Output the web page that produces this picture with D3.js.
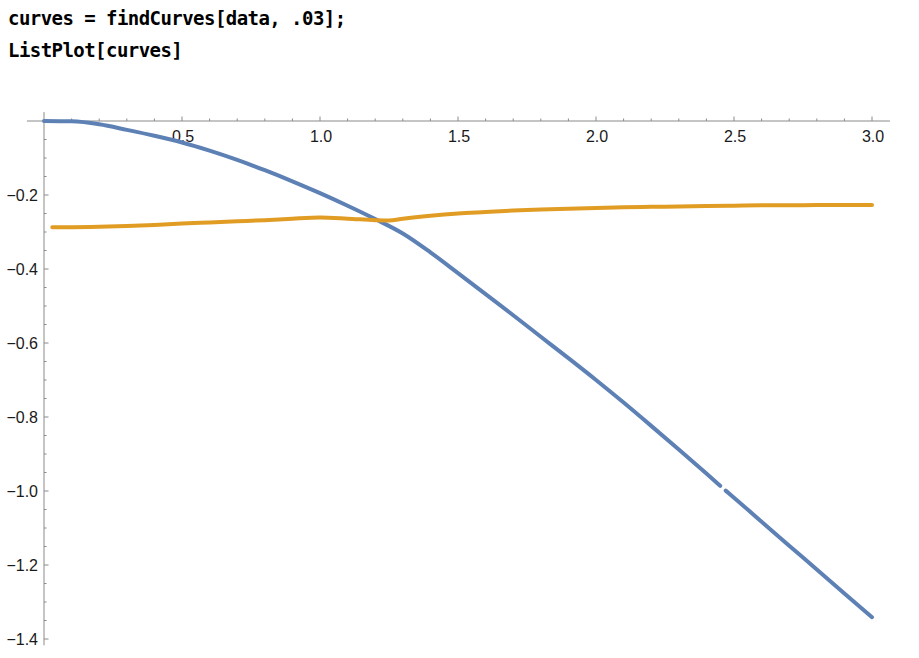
<!DOCTYPE html>
<html>
<head>
<meta charset="utf-8">
<script src="https://cdn.jsdelivr.net/npm/d3@7"></script>
<style>
	body { margin: 0; background: #fff; }
	svg { display: block; }
</style>
</head>
<body>
<div id="chart"></div>
<script>
var codeLines = ['curves = findCurves[data, .03];', 'ListPlot[curves]'];

var xTicks = [0.5, 1.0, 1.5, 2.0, 2.5, 3.0];
var yTicks = [-0.2, -0.4, -0.6, -0.8, -1.0, -1.2, -1.4];

// blue curve, null = small hole in the point list near x = 2.46
var blueCurve = [
	[0, 0], [0.1, -0.001], [0.2, -0.009], [0.3, -0.024], [0.4, -0.040],
	[0.5, -0.058], [0.6, -0.080], [0.7, -0.105], [0.8, -0.133], [0.9, -0.163],
	[1.0, -0.195], [1.1, -0.229], [1.2, -0.265], [1.3, -0.304], [1.4, -0.355],
	[1.5, -0.411], [1.6, -0.468], [1.7, -0.525], [1.8, -0.583], [1.9, -0.641],
	[2.0, -0.700], [2.1, -0.761], [2.2, -0.824], [2.3, -0.888], [2.4, -0.953],
	[2.45, -0.986], null, [2.47, -0.999], [2.5, -1.018], [2.6, -1.083],
	[2.7, -1.148], [2.8, -1.212], [2.9, -1.277], [3.0, -1.341]
];

var orangeCurve = [
	[0.03, -0.287], [0.1, -0.287], [0.2, -0.286], [0.3, -0.284], [0.4, -0.281],
	[0.5, -0.277], [0.6, -0.274], [0.7, -0.271], [0.8, -0.268], [0.9, -0.264],
	[1.0, -0.261], [1.1, -0.264], [1.2, -0.268], [1.25, -0.269], [1.3, -0.264],
	[1.4, -0.256], [1.5, -0.250], [1.6, -0.246], [1.7, -0.242], [1.8, -0.239],
	[1.9, -0.237], [2.0, -0.235], [2.1, -0.233], [2.2, -0.232], [2.3, -0.231],
	[2.4, -0.230], [2.5, -0.229], [2.6, -0.228], [2.7, -0.228], [2.8, -0.227],
	[2.9, -0.227], [3.0, -0.227]
];

(function ()	{
	'use strict';

	var width = 919,
			height = 658;

	var svg = d3.select('#chart').append('svg')
							.attr('width', width)
							.attr('height', height);

	// input cell text
	svg.selectAll('text.code')
		 .data(codeLines)
		 .enter().append('text')
		 .attr('class', 'code')
		 .attr('x', 8)
		 .attr('y', function (d, i)	{ return 25 + i * 32; })
		 .style('font-family', '"DejaVu Sans Mono", monospace')
		 .style('font-weight', 'bold')
		 .style('font-size', '19px')
		 .style('letter-spacing', '-0.55px')
		 .style('fill', '#000')
		 .text(function (d)	{ return d; });

	var x = d3.scaleLinear().domain([0, 3]).range([44, 872]),
			y = d3.scaleLinear().domain([0, -1.4]).range([121, 639]);

	var axisColor = '#8a8a8a',
			labelFont = '"Liberation Sans", Arial, sans-serif';

	var axes = svg.append('g').attr('class', 'axes');

	// axis lines
	axes.append('line')
			.attr('x1', x(-0.062)).attr('x2', x(3.065))
			.attr('y1', y(0)).attr('y2', y(0))
			.style('stroke', axisColor).style('stroke-width', 1);

	axes.append('line')
			.attr('x1', x(0)).attr('x2', x(0))
			.attr('y1', y(0.024)).attr('y2', y(-1.417))
			.style('stroke', axisColor).style('stroke-width', 1);

	// x ticks (drawn above the axis)
	var xMinor = d3.range(1, 31).map(function (i)	{ return i / 10; })
								 .filter(function (v)	{ return Math.round(v * 10) % 5 !== 0; });

	axes.selectAll('line.xminor')
			.data(xMinor)
			.enter().append('line')
			.attr('class', 'xminor')
			.attr('x1', function (d)	{ return x(d); })
			.attr('x2', function (d)	{ return x(d); })
			.attr('y1', y(0)).attr('y2', y(0) - 2.5)
			.style('stroke', axisColor);

	axes.selectAll('line.xmajor')
			.data(xTicks)
			.enter().append('line')
			.attr('class', 'xmajor')
			.attr('x1', function (d)	{ return x(d); })
			.attr('x2', function (d)	{ return x(d); })
			.attr('y1', y(0)).attr('y2', y(0) - 4.5)
			.style('stroke', axisColor);

	// y ticks (drawn to the right)
	var yMinor = d3.range(1, 29).map(function (i)	{ return -i * 0.05; })
								 .filter(function (v)	{ return Math.round(-v * 20) % 4 !== 0; });

	axes.selectAll('line.yminor')
			.data(yMinor)
			.enter().append('line')
			.attr('class', 'yminor')
			.attr('x1', x(0)).attr('x2', x(0) + 2.5)
			.attr('y1', function (d)	{ return y(d); })
			.attr('y2', function (d)	{ return y(d); })
			.style('stroke', axisColor);

	axes.selectAll('line.ymajor')
			.data(yTicks)
			.enter().append('line')
			.attr('class', 'ymajor')
			.attr('x1', x(0)).attr('x2', x(0) + 4.5)
			.attr('y1', function (d)	{ return y(d); })
			.attr('y2', function (d)	{ return y(d); })
			.style('stroke', axisColor);

	function fmt (v)	{
		return d3.format('.1f')(v).replace('-', '\u2212');
	};

	axes.selectAll('text.xlabel')
			.data(xTicks)
			.enter().append('text')
			.attr('class', 'xlabel')
			.attr('x', function (d)	{ return x(d) + 1; })
			.attr('y', y(0) + 21)
			.attr('text-anchor', 'middle')
			.style('font-family', labelFont)
			.style('font-size', '16px')
			.style('fill', '#1a1a1a')
			.text(fmt);

	axes.selectAll('text.ylabel')
			.data(yTicks)
			.enter().append('text')
			.attr('class', 'ylabel')
			.attr('x', x(0) - 6)
			.attr('y', function (d)	{ return y(d) + 5.5; })
			.attr('text-anchor', 'end')
			.style('font-family', labelFont)
			.style('font-size', '16px')
			.style('fill', '#1a1a1a')
			.text(fmt);

	var line = d3.line()
							 .defined(function (d)	{ return d !== null; })
							 .curve(d3.curveMonotoneX)
							 .x(function (d)	{ return x(d[0]); })
							 .y(function (d)	{ return y(d[1]); });

	var series = [
		{ data: blueCurve, color: '#5e81b5' },
		{ data: orangeCurve, color: '#e19c24' }
	];

	svg.append('g').attr('class', 'curves')
		 .selectAll('path')
		 .data(series)
		 .enter().append('path')
		 .attr('d', function (d)	{ return line(d.data); })
		 .style('fill', 'none')
		 .style('stroke', function (d)	{ return d.color; })
		 .style('stroke-width', 4)
		 .style('stroke-linecap', 'round')
		 .style('stroke-linejoin', 'round');
}());
</script>
</body>
</html>
